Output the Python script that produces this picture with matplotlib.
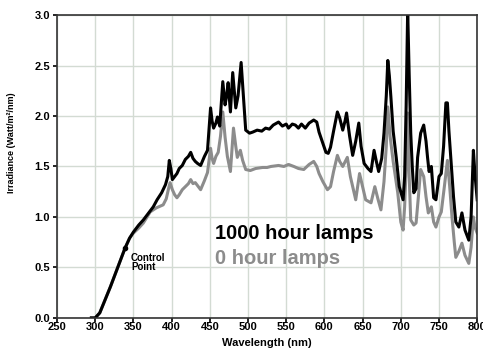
import matplotlib
matplotlib.use("Agg")
import matplotlib.pyplot as plt

# 1000 hour lamps (black)
nm_1000 = [295, 300, 306, 313, 320, 327, 333, 339, 345, 350, 357, 363, 370, 376,
           381, 387, 392, 395, 397, 399, 401, 404, 407, 410, 414, 418, 422, 425,
           428, 431, 434, 438, 443, 447, 451, 453, 455, 458, 460, 463, 467, 470,
           472, 474, 477, 480, 482, 484, 487, 491, 494, 497, 502, 506, 512, 518,
           523, 528, 533, 540, 545, 550, 553, 558, 562, 566, 570, 575, 580, 586,
           590, 593, 597, 602, 605, 608, 612, 617, 620, 624, 627, 629, 633, 637,
           641, 645, 648, 652, 657, 661, 665, 668, 671, 675, 678, 681, 683, 685,
           687, 690, 694, 698, 703, 705, 707, 709, 711, 713, 715, 717, 720, 722,
           726, 730, 733, 735, 737, 740, 743, 746, 750, 753, 756, 759, 761, 763,
           766, 769, 772, 776, 780, 784, 789, 792, 795, 797, 800]
irr_1000 = [0.0, 0.0, 0.05, 0.18, 0.31, 0.45, 0.57, 0.69, 0.79, 0.85, 0.92, 0.97, 1.04, 1.10,
            1.17, 1.24, 1.32, 1.40, 1.56, 1.48, 1.37, 1.40, 1.43, 1.48, 1.51, 1.57, 1.60, 1.64,
            1.58, 1.55, 1.53, 1.51, 1.60, 1.66, 2.08, 1.95, 1.88, 1.93, 1.99, 1.90, 2.34, 2.11,
            2.20, 2.33, 2.04, 2.43, 2.25, 2.08, 2.20, 2.53, 2.20, 1.86, 1.83, 1.84, 1.86, 1.85,
            1.88, 1.87, 1.91, 1.94, 1.90, 1.92, 1.88, 1.92, 1.91, 1.88, 1.92, 1.88, 1.93, 1.96,
            1.94, 1.84, 1.75, 1.64, 1.63, 1.69, 1.85, 2.04, 1.98, 1.86, 1.95, 2.03, 1.80, 1.61,
            1.75, 1.93, 1.70, 1.53, 1.48, 1.45, 1.66, 1.55, 1.45, 1.58, 1.83, 2.20, 2.55, 2.40,
            2.19, 1.85, 1.59, 1.30, 1.17, 1.40, 2.10, 3.05, 2.40, 1.83, 1.50, 1.24, 1.28, 1.59,
            1.83, 1.91, 1.75, 1.59, 1.45, 1.50, 1.19, 1.17, 1.40, 1.43, 1.70, 2.13, 2.13, 1.85,
            1.53, 1.20, 0.95, 0.90, 1.04, 0.87, 0.77, 1.00, 1.66, 1.43, 1.17]

# 0 hour lamps (gray)
nm_0 = [295, 300, 306, 313, 320, 327, 333, 339, 345, 350, 357, 363, 372, 380,
        389, 393, 396, 398, 401, 404, 407, 410, 414, 418, 422, 425, 428, 431,
        435, 438, 443, 447, 451, 453, 455, 458, 461, 464, 467, 470, 473, 477,
        481, 484, 486, 490, 493, 497, 503, 510, 519, 525, 530, 540, 547, 553,
        560, 566, 573, 580, 586, 590, 593, 598, 604, 608, 612, 617, 620, 624,
        630, 634, 641, 646, 650, 654, 661, 666, 670, 674, 678, 681, 683, 686,
        690, 696, 700, 703, 705, 707, 709, 711, 713, 717, 720, 723, 726, 730,
        733, 736, 740, 743, 746, 750, 753, 757, 761, 764, 767, 770, 772, 776,
        780, 784, 789, 792, 795, 797, 800]
irr_0 = [0.0, 0.0, 0.05, 0.18, 0.31, 0.45, 0.57, 0.69, 0.79, 0.84, 0.89, 0.94, 1.05, 1.09,
         1.12, 1.18, 1.28, 1.34, 1.27, 1.22, 1.19, 1.22, 1.27, 1.30, 1.33, 1.37, 1.33, 1.34,
         1.30, 1.27, 1.36, 1.44, 1.68, 1.58, 1.53, 1.60, 1.64, 1.80, 2.04, 1.79, 1.60, 1.45,
         1.88, 1.70, 1.59, 1.66, 1.56, 1.47, 1.46, 1.48, 1.49, 1.49, 1.50, 1.51, 1.50, 1.52,
         1.50, 1.48, 1.47, 1.52, 1.55, 1.50, 1.43, 1.35, 1.27, 1.30, 1.45, 1.61, 1.55, 1.50,
         1.59, 1.40, 1.17, 1.43, 1.30, 1.17, 1.14, 1.30, 1.18, 1.07, 1.35, 1.70, 2.09, 1.80,
         1.55, 1.24, 0.95, 0.87, 1.10, 1.50, 2.03, 1.40, 0.97, 0.92, 0.94, 1.20, 1.47, 1.40,
         1.20, 1.04, 1.10, 0.95, 0.90, 1.00, 1.05, 1.30, 1.56, 1.30, 1.00, 0.75, 0.60, 0.66,
         0.74, 0.62, 0.54, 0.70, 1.00, 0.90, 0.84]

control_nm = 339
control_irr = 0.69

x_ticks = [250, 300, 350, 400, 450, 500, 550, 600, 650, 700, 750, 800]
y_ticks = [0.0, 0.5, 1.0, 1.5, 2.0, 2.5, 3.0]

plt.rcParams['font.family'] = ['Liberation Sans', 'DejaVu Sans']

fig = plt.figure(figsize=(4.83, 3.58), dpi=100)
ax = fig.add_axes([0.118, 0.112, 0.870, 0.846])

ax.plot(nm_0, irr_0, color='#8c8c8c', lw=2.2)
ax.plot(nm_1000, irr_1000, color='black', lw=2.2)
ax.plot([control_nm], [control_irr], 'o', color='black', ms=3)

ax.set_xlim(250, 800)
ax.set_ylim(0, 3.0)
ax.set_xticks(x_ticks)
ax.set_yticks(y_ticks)
ax.set_xticklabels([str(t) for t in x_ticks], fontweight='bold', fontsize=8)
ax.set_yticklabels(['%.1f' % t for t in y_ticks], fontweight='bold', fontsize=8)
ax.tick_params(axis='x', length=3, width=1.2, direction='out', pad=0)
ax.tick_params(axis='y', length=3, width=1.2, direction='out', pad=2)
ax.grid(True, color='#d3dbd3', lw=1.0)
ax.set_axisbelow(True)
for s in ax.spines.values():
    s.set_linewidth(1.2)
    s.set_color('#333333')

ax.set_xlabel('Wavelength (nm)', fontweight='bold', fontsize=8, labelpad=4)
ax.set_ylabel('Irradiance (Watt/m\u00b2/nm)', fontweight='bold', fontsize=6.5)
ax.yaxis.set_label_coords(-0.098, 0.58)

ax.text(457, 0.84, '1000 hour lamps', fontweight='bold', fontsize=14.5, color='black',
        va='center', ha='left')
ax.text(457, 0.59, '0 hour lamps', fontweight='bold', fontsize=14.5, color='#8c8c8c',
        va='center', ha='left')
ax.text(347, 0.55, 'Control\nPoint', fontweight='bold', fontsize=7, color='black',
        va='center', ha='left', linespacing=0.95)

fig.savefig('out.png', dpi=100)
